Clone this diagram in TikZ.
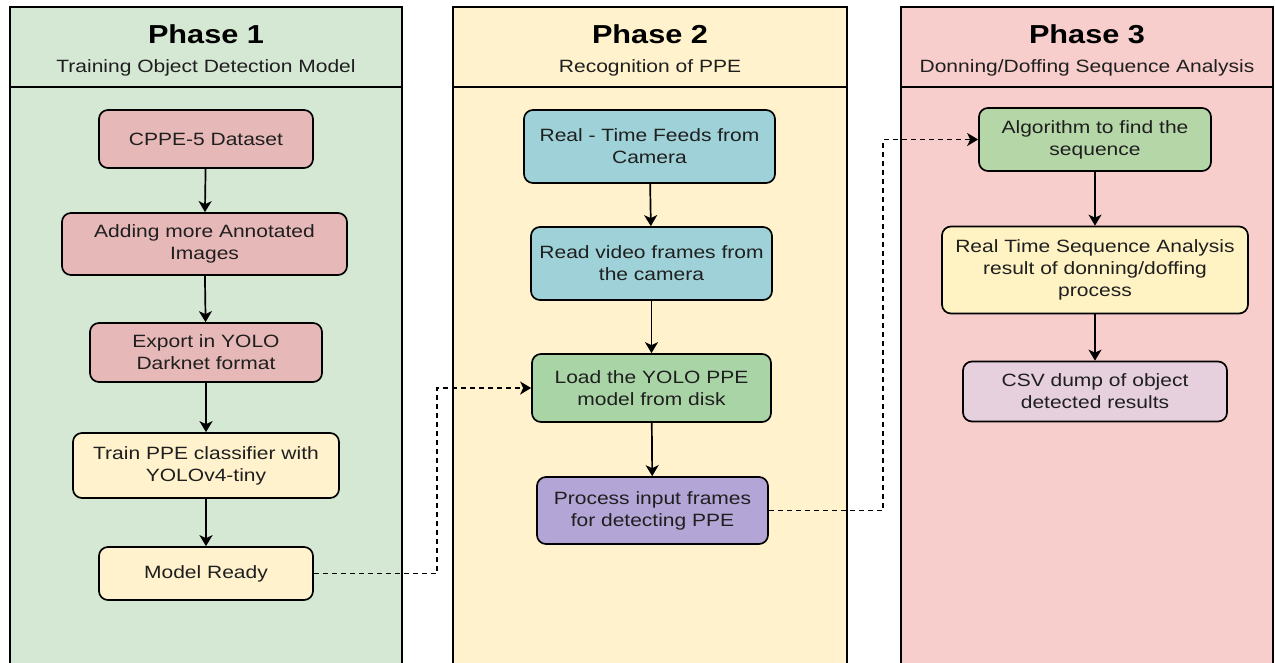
\documentclass[tikz,border=0pt]{standalone}
\usepackage{fontspec}
\setmainfont{Liberation Sans}[FakeStretch=1.18]
\usetikzlibrary{arrows.meta}
\definecolor{pone}{HTML}{D5E8D4}
\definecolor{ptwo}{HTML}{FFF2CC}
\definecolor{pthree}{HTML}{F8CECC}
\definecolor{cpink}{HTML}{E6B8B7}
\definecolor{cyel}{HTML}{FFF2CC}
\definecolor{cblue}{HTML}{9FD2D8}
\definecolor{cgreen}{HTML}{A9D4A6}
\definecolor{cpurp}{HTML}{B3A5D6}
\definecolor{cgreentwo}{HTML}{B5D7A8}
\definecolor{cyeltwo}{HTML}{FFF3C4}
\definecolor{clilac}{HTML}{E6D0DE}
\tikzset{
  box/.style={draw=black, line width=1.7pt, rounded corners=9pt, align=center, inner sep=0pt,
    font=\fontsize{17.8}{22}\selectfont, text=black!88},
  arr/.style={-{Stealth[length=11pt,width=13pt,inset=3pt]}, line width=1.7pt},
  dasharr/.style={arr, line width=1.5pt, dash pattern=on 5pt off 4pt},
  paneltitle/.style={anchor=base, font=\bfseries\fontsize{26}{30}\selectfont},
  panelsub/.style={anchor=base, font=\fontsize{17.8}{22}\selectfont, text=black!88},
  panel/.style={draw=black, line width=2pt},
  divider/.style={line width=2.6pt}
}
\begin{document}
\begin{tikzpicture}[x=1pt,y=-1pt]
\useasboundingbox (0,0) rectangle (1275,662);
\clip (0,0) rectangle (1275,662);
\fill[white] (0,0) rectangle (1275,662);
% panels
\draw[panel, fill=pone] (10,7) rectangle (402,700);
\draw[divider] (10,87) -- (402,87);
\draw[panel, fill=ptwo] (453,7) rectangle (847,700);
\draw[divider] (453,87) -- (847,87);
\draw[panel, fill=pthree] (901,7) rectangle (1273,700);
\draw[divider] (901,87) -- (1273,87);
\node[paneltitle] (t1) at (206,43.5) {Phase 1};
\node[panelsub] (s1) at (206,72) {Training Object Detection Model};
\node[paneltitle] (t2) at (650,43.5) {Phase 2};
\node[panelsub] (s2) at (650,72) {Recognition of PPE};
\node[paneltitle] (t3) at (1087,43.5) {Phase 3};
\node[panelsub] (s3) at (1087,72) {Donning/Doffing Sequence Analysis};
% phase 1
\node[box, fill=cpink, minimum width=214pt, minimum height=58pt] (n1) at (206,139) {CPPE-5 Dataset};
\node[box, fill=cpink, minimum width=285pt, minimum height=62pt] (n2) at (204.5,244) {Adding more Annotated\\Images};
\node[box, fill=cpink, minimum width=232pt, minimum height=59pt] (n3) at (206,352.5) {Export in YOLO\\Darknet format};
\node[box, fill=cyel, minimum width=266pt, minimum height=65pt] (n4) at (206,465.5) {Train PPE classifier with\\YOLOv4-tiny};
\node[box, fill=cyel, minimum width=214pt, minimum height=53pt] (n5) at (206,573.5) {Model Ready};
% phase 2
\node[box, fill=cblue, minimum width=251pt, minimum height=73pt] (m1) at (649.5,146.5) {Real - Time Feeds from\\Camera};
\node[box, fill=cblue, minimum width=241pt, minimum height=73pt] (m2) at (651.5,263.5) {Read video frames from\\the camera};
\node[box, fill=cgreen, minimum width=239pt, minimum height=68pt] (m3) at (651.5,388) {Load the YOLO PPE\\model from disk};
\node[box, fill=cpurp, minimum width=231pt, minimum height=67pt] (m4) at (652.5,510.5) {Process input frames\\for detecting PPE};
% phase 3
\node[box, fill=cgreentwo, minimum width=232pt, minimum height=63pt] (r1) at (1095,139.5) {Algorithm to find the\\sequence};
\node[box, fill=cyeltwo, minimum width=306pt, minimum height=87pt] (r2) at (1095,270) {Real Time Sequence Analysis\\result of donning/doffing\\process};
\node[box, fill=clilac, minimum width=264pt, minimum height=60pt] (r3) at (1095,391.5) {CSV dump of object\\detected results};
% arrows
\draw[arr] (n1) -- (n2);
\draw[arr] (n2) -- (n3);
\draw[arr] (n3) -- (n4);
\draw[arr] (n4) -- (n5);
\draw[arr] (m1) -- (m2);
\draw[arr] (m2) -- (m3);
\draw[arr] (m3) -- (m4);
\draw[arr] (r1) -- (r2);
\draw[arr] (r2) -- (r3);
% dashed connectors
\coordinate (j1) at (437,0);
\coordinate (j2) at (883,0);
\draw[dasharr] (n5.east) -- (n5.east -| j1) -- (j1 |- m3.west) -- (m3.west);
\draw[dasharr] (m4.east) -- (m4.east -| j2) -- (j2 |- r1.west) -- (r1.west);
\end{tikzpicture}
\end{document}
